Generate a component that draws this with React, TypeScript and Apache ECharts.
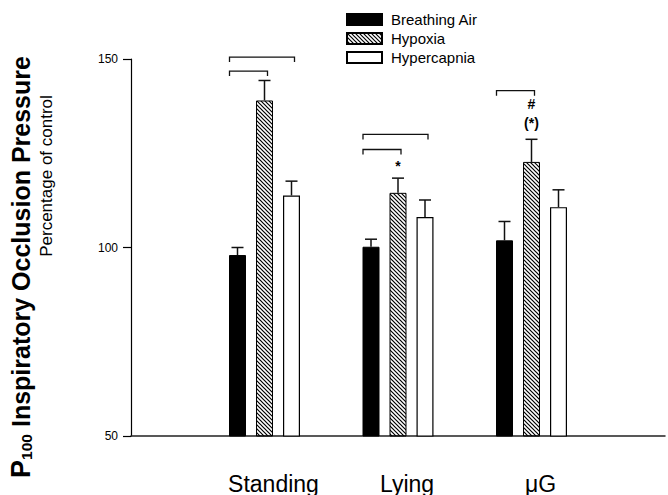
import React, { useEffect, useRef } from "react";
import * as echarts from "echarts";

const groups = ["Standing", "Lying", "μG"];
const seriesNames = ["Breathing Air", "Hypoxia", "Hypercapnia"];
const airMean = [98, 100.2, 101.9];
const airSem = [2, 2, 5];
const hypoxiaMean = [139, 114.5, 122.7];
const hypoxiaSem = [5.3, 3.9, 6];
const hyperMean = [113.8, 108.1, 110.7];
const hyperSem = [3.8, 4.5, 4.6];
const yTicks = [50, 100, 150];

// brackets: group index (0-based), y value, target series index
const bracketGroup = [0, 0, 1, 1, 2];
const bracketValue = [150.5, 146.8, 130, 126, 141.6];
const bracketTarget = [2, 1, 2, 1, 1];

// annotations over hypoxia bars
const noteGroup = ["Lying", "μG", "μG"];
const noteValue = [121.6, 138, 133];
const noteText = ["*", "#", "(*)"];

const FONT = "'Liberation Sans', Arial, Helvetica, sans-serif";
const categories = ["", ...groups, ""];
const pad = (a: number[]) => ["-", ...a, "-"];

const hatchSvg =
  "<svg xmlns='http://www.w3.org/2000/svg' width='4' height='4'><path d='M-1,-1 L5,5 M-1,3 L1,5 M3,-1 L5,1' stroke='black' stroke-width='1.2'/></svg>";
const hatchUrl = "data:image/svg+xml;charset=utf-8," + encodeURIComponent(hatchSvg);

const BAR_W = 17;
const STEP = 27;

function errSeries(mean: number[], sem: number[], k: number) {
  return {
    type: "custom",
    z: 5,
    silent: true,
    data: mean.map((m, i) => [i + 1, m, m + sem[i]]),
    encode: { x: 0, y: [1, 2] },
    renderItem: (params: any, api: any) => {
      const base = api.coord([api.value(0), api.value(1)]);
      const top = api.coord([api.value(0), api.value(2)]);
      const x = base[0] + (k - 1) * STEP;
      const style = { stroke: "#111", lineWidth: 1.5 };
      return {
        type: "group",
        children: [
          { type: "line", shape: { x1: x, y1: base[1], x2: x, y2: top[1] }, style },
          { type: "line", shape: { x1: x - 6, y1: top[1], x2: x + 6, y2: top[1] }, style },
        ],
      };
    },
  };
}

export default function App() {
  const ref = useRef<HTMLDivElement>(null);
  useEffect(() => {
    if (!ref.current) return;
    const chart = echarts.init(ref.current, null, { renderer: "svg" });
    const hatch: any = { image: hatchUrl, repeat: "repeat", imageWidth: 4, imageHeight: 4 };
    const barBase = {
      type: "bar",
      barWidth: BAR_W,
      barGap: (10 / BAR_W) * 100 + "%",
    };
    chart.setOption({
      animation: false,
      textStyle: { fontFamily: FONT },
      grid: { left: 131, width: 548, top: 59, bottom: 56, containLabel: false },
      legend: {
        data: seriesNames,
        orient: "vertical",
        left: 346,
        top: 12,
        padding: 0,
        itemWidth: 35,
        itemHeight: 11,
        itemGap: 4,
        icon: "rect",
        textStyle: { fontSize: 15, color: "#000", fontFamily: FONT, padding: [0, 0, 0, 4] },
      },
      xAxis: {
        type: "category",
        data: categories,
        boundaryGap: false,
        axisLine: { lineStyle: { color: "#222", width: 1.5 } },
        axisTick: { show: false },
        axisLabel: {
          interval: 0,
          fontSize: 23,
          color: "#000",
          margin: 36,
          padding: [0, 0, 0, 18],
          fontFamily: FONT,
        },
      },
      yAxis: {
        type: "value",
        min: yTicks[0],
        max: yTicks[yTicks.length - 1],
        interval: 50,
        splitLine: { show: false },
        axisLine: { show: true, lineStyle: { color: "#000", width: 1.2 } },
        axisTick: { show: true, length: 8, lineStyle: { color: "#000", width: 1.2 } },
        axisLabel: { fontSize: 12, color: "#000", margin: 13, fontFamily: FONT },
      },
      graphic: [
        {
          type: "text",
          x: 21,
          y: 267,
          rotation: Math.PI / 2,
          style: {
            text: "{p|P}{s|100} Inspiratory Occlusion Pressure",
            fontSize: 25,
            fontWeight: "bold",
            fontFamily: FONT,
            fill: "#000",
            align: "center",
            verticalAlign: "middle",
            rich: {
              p: { fontSize: 27, fontWeight: "bold", fontFamily: FONT, fill: "#000" },
              s: {
                fontSize: 15.5,
                fontWeight: "bold",
                fontFamily: FONT,
                fill: "#000",
                verticalAlign: "bottom",
                lineHeight: 10,
              },
            },
          },
        },
        {
          type: "text",
          x: 46,
          y: 176,
          rotation: Math.PI / 2,
          style: {
            text: "Percentage of control",
            fontSize: 17,
            fontFamily: FONT,
            fill: "#000",
            align: "center",
            verticalAlign: "middle",
          },
        },
      ],
      series: [
        {
          ...barBase,
          name: seriesNames[0],
          data: pad(airMean),
          itemStyle: { color: "#000", borderColor: "#000", borderWidth: 1 },
        },
        {
          ...barBase,
          name: seriesNames[1],
          data: pad(hypoxiaMean),
          itemStyle: { color: hatch, borderColor: "#000", borderWidth: 1 },
          markPoint: {
            symbol: "circle",
            symbolSize: 0,
            silent: true,
            label: {
              show: true,
              position: "inside",
              color: "#000",
              fontSize: 14,
              fontWeight: "bold",
              fontFamily: FONT,
              formatter: (p: any) => p.name,
            },
            data: noteText.map((t, i) => ({ name: t, coord: [noteGroup[i], noteValue[i]] })),
          },
        },
        {
          ...barBase,
          name: seriesNames[2],
          data: pad(hyperMean),
          itemStyle: { color: "#fff", borderColor: "#000", borderWidth: 1.2 },
        },
        errSeries(airMean, airSem, 0),
        errSeries(hypoxiaMean, hypoxiaSem, 1),
        errSeries(hyperMean, hyperSem, 2),
        {
          type: "custom",
          z: 5,
          silent: true,
          clip: false,
          data: bracketGroup.map((g, i) => [g + 1, bracketValue[i], bracketTarget[i]]),
          encode: { x: 0, y: 1 },
          renderItem: (params: any, api: any) => {
            const p = api.coord([api.value(0), api.value(1)]);
            const x1 = p[0] - STEP - 8;
            const x2 = p[0] + (api.value(2) - 1) * STEP + 3;
            const y = p[1];
            const style = { stroke: "#111", lineWidth: 1.3, fill: null };
            return {
              type: "polyline",
              shape: { points: [[x1, y + 5], [x1, y], [x2, y], [x2, y + 5]] },
              style,
            };
          },
        },
      ],
    });
    return () => chart.dispose();
  }, []);
  return (
    <div
      ref={ref}
      style={{ position: "absolute", left: 0, top: 0, width: 668, height: 495, background: "#fff" }}
    />
  );
}
